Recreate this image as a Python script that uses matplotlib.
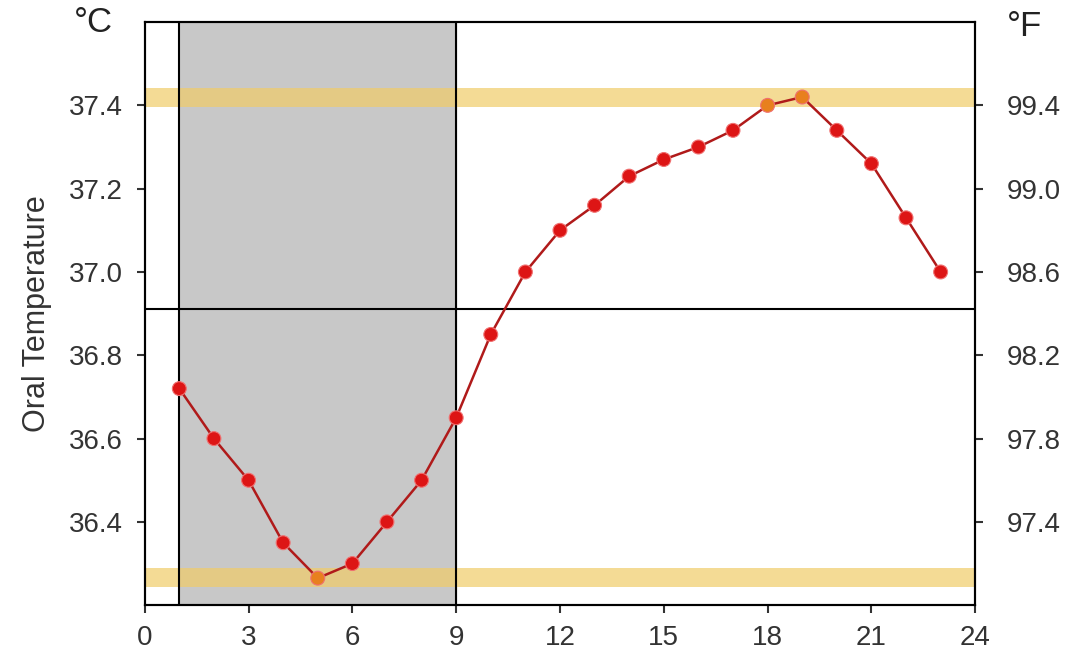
import matplotlib.pyplot as plt

plt.rcParams["font.family"] = ["Liberation Sans", "DejaVu Sans"]

# hours and oral temperature (deg C)
hours = list(range(1, 24))
temps = [36.72, 36.60, 36.50, 36.35, 36.265, 36.30, 36.40, 36.50, 36.65,
         36.85, 37.00, 37.10, 37.16, 37.23, 37.27, 37.30, 37.34, 37.40,
         37.42, 37.34, 37.26, 37.13, 37.00]
highlight_hours = [5, 18, 19]

c_ticks = [36.4, 36.6, 36.8, 37.0, 37.2, 37.4]
c_labels = ["36.4", "36.6", "36.8", "37.0", "37.2", "37.4"]
f_labels = ["97.4", "97.8", "98.2", "98.6", "99.0", "99.4"]
x_ticks = [0, 3, 6, 9, 12, 15, 18, 21, 24]

shade_span = (1, 9)
mean_line = 36.91
bands = [37.418, 36.267]

fig = plt.figure(figsize=(10.8, 6.68), dpi=100)
ax = fig.add_axes([0.134, 0.094, 0.769, 0.873])

ax.axvspan(*shade_span, color="#c8c8c8", zorder=0)
for b in bands:
    ax.axhspan(b - 0.023, b + 0.023, color="#f0cc68", alpha=0.7, lw=0, zorder=1)
for xv in shade_span:
    ax.axvline(xv, color="black", lw=1.5, zorder=2)
ax.axhline(mean_line, color="black", lw=1.5, zorder=2)

ax.plot(hours, temps, color="#b01a1a", lw=1.8, zorder=3)
colors = ["#e8801e" if h in highlight_hours else "#dd1515" for h in hours]
ax.scatter(hours, temps, s=100, c=colors, edgecolors="#f07070", linewidths=0.8, zorder=4)

ax.set_xlim(0, 24)
ax.set_ylim(36.2, 37.6)
ax.set_xticks(x_ticks)
ax.set_yticks(c_ticks)
ax.set_yticklabels(c_labels)
ax.tick_params(axis="both", labelsize=20, colors="#333333", length=6, width=1.5, direction="out")
ax.tick_params(axis="y", pad=10)
ax.tick_params(axis="x", pad=8)
for s in ax.spines.values():
    s.set_linewidth(1.5)
ax.set_ylabel("Oral Temperature", fontsize=22, color="#333333", labelpad=12)

ax2 = ax.twinx()
ax2.set_ylim(36.2, 37.6)
ax2.set_yticks(c_ticks)
ax2.set_yticklabels(f_labels)
ax2.tick_params(axis="y", labelsize=20, colors="#333333", length=6, width=1.5, pad=17)
for s in ax2.spines.values():
    s.set_linewidth(1.5)

fig.text(0.086, 0.967, "°C", fontsize=25, ha="center", va="center", color="#222222")
fig.text(0.949, 0.960, "°F", fontsize=25, ha="center", va="center", color="#222222")

fig.savefig("out.png", dpi=100)
